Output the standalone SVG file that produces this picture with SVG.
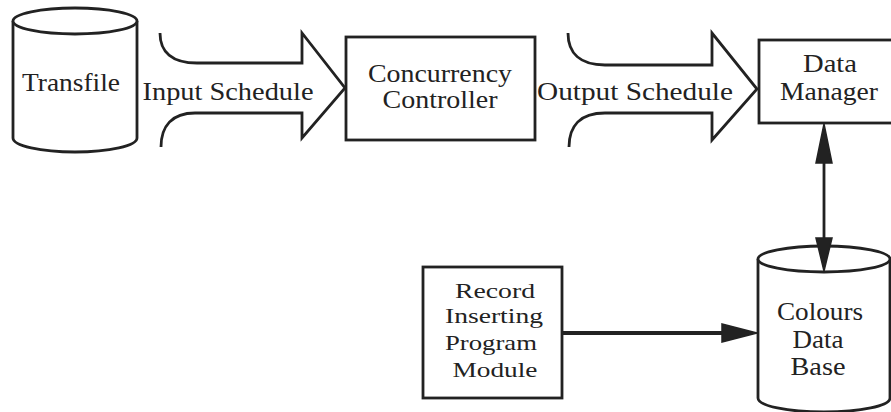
<svg xmlns="http://www.w3.org/2000/svg" width="891" height="412" viewBox="0 0 891 412">
  <style>
    .shape { fill: #fff; stroke: #222; stroke-width: 2.8; stroke-linejoin: miter; }
    .line { fill: none; stroke: #222; stroke-width: 2.8; }
    .head { fill: #222; stroke: #222; stroke-width: 1.5; stroke-linejoin: miter; }
    .lbl { font-family: "Liberation Serif", "DejaVu Serif", serif; font-size: 25px; fill: #222; text-anchor: middle; }
    .sm { font-size: 22px; }
  </style>
  <rect width="891" height="412" fill="#fff"/>

  <!-- Transfile store -->
  <g id="transfile">
    <path class="shape" d="M13,21 L13,138 A62,14 0 0 0 137,138 L137,21"/>
    <ellipse class="shape" cx="75" cy="21" rx="62" ry="13"/>
    <text class="lbl" x="71" y="91" textLength="98" lengthAdjust="spacingAndGlyphs">Transfile</text>
  </g>

  <!-- Input Schedule flow -->
  <g id="input-schedule">
    <path class="line" d="M160,33 C160,52 172,63 197,63 L302,63 L302,33 L345,88 L302,138 L302,113 L195,113 C172,113 161,126 161,147"/>
    <text class="lbl" x="228" y="100" textLength="171" lengthAdjust="spacingAndGlyphs">Input Schedule</text>
  </g>

  <!-- Concurrency Controller -->
  <g id="concurrency-controller">
    <rect class="shape" x="346" y="37" width="189" height="103"/>
    <text class="lbl" x="440" y="82" textLength="144" lengthAdjust="spacingAndGlyphs">Concurrency</text>
    <text class="lbl" x="440" y="108" textLength="115" lengthAdjust="spacingAndGlyphs">Controller</text>
  </g>

  <!-- Output Schedule flow -->
  <g id="output-schedule">
    <path class="line" d="M568,33 C568,53 580,65 605,65 L712,65 L712,33 L757,89 L712,140 L712,113 L605,113 C580,113 569,126 569,147"/>
    <text class="lbl" x="635" y="100" textLength="196" lengthAdjust="spacingAndGlyphs">Output Schedule</text>
  </g>

  <!-- Data Manager -->
  <g id="data-manager">
    <rect class="shape" x="759" y="40" width="136" height="83"/>
    <text class="lbl" x="830" y="72" textLength="54" lengthAdjust="spacingAndGlyphs">Data</text>
    <text class="lbl" x="829" y="100" textLength="98" lengthAdjust="spacingAndGlyphs">Manager</text>
  </g>

  <!-- Record Inserting Program Module -->
  <g id="record-inserting">
    <rect class="shape" x="423" y="267" width="139" height="131"/>
    <text class="lbl sm" x="495" y="298" textLength="80" lengthAdjust="spacingAndGlyphs">Record</text>
    <text class="lbl sm" x="494" y="323" textLength="98" lengthAdjust="spacingAndGlyphs">Inserting</text>
    <text class="lbl sm" x="491" y="350" textLength="92" lengthAdjust="spacingAndGlyphs">Program</text>
    <text class="lbl sm" x="495" y="377" textLength="85" lengthAdjust="spacingAndGlyphs">Module</text>
  </g>

  <!-- Colours Data Base store -->
  <g id="colours-db">
    <path class="shape" d="M758,259 L758,398 A66,14 0 0 0 890,398 L890,259"/>
    <ellipse class="shape" cx="824" cy="259" rx="66" ry="13"/>
    <text class="lbl" x="820" y="320" textLength="86" lengthAdjust="spacingAndGlyphs">Colours</text>
    <text class="lbl" x="818" y="348" textLength="51" lengthAdjust="spacingAndGlyphs">Data</text>
    <text class="lbl" x="818" y="375" textLength="55" lengthAdjust="spacingAndGlyphs">Base</text>
  </g>

  <!-- Connectors -->
  <g id="connectors">
    <line class="line" x1="824" y1="140" x2="824" y2="255"/>
    <polygon class="head" points="824,124 816,163 832,163"/>
    <polygon class="head" points="824,271 816,238 832,238"/>
    <line class="line" x1="562" y1="333" x2="724" y2="333" style="stroke-width:4"/>
    <polygon class="head" points="757,333 722,324 722,342"/>
  </g>
</svg>
